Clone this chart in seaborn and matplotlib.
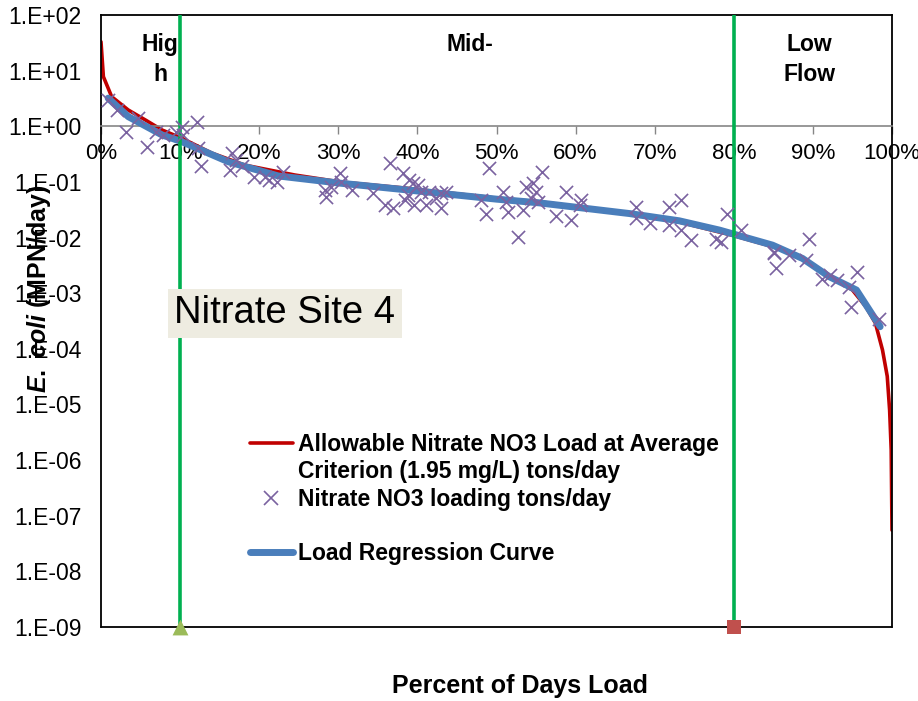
import numpy as np
import pandas as pd
import matplotlib
matplotlib.use("Agg")
import matplotlib.pyplot as plt
import seaborn as sns
from matplotlib.ticker import FixedLocator, FuncFormatter, NullLocator
from matplotlib.lines import Line2D

# ---------------- data ----------------
allow_x = [0.0, 0.003, 0.0135, 0.0345, 0.056, 0.077, 0.102, 0.14, 0.182, 0.245,
           0.302, 0.386, 0.5, 0.554, 0.668, 0.731, 0.798, 0.857, 0.887, 0.92,
           0.95, 0.967, 0.979, 0.988, 0.994, 0.997, 0.999, 1.0]
allow_y = [33, 7.8, 3.4, 1.96, 1.30, 0.86, 0.61, 0.33, 0.20, 0.133,
           0.10, 0.077, 0.051, 0.044, 0.027, 0.019, 0.011, 0.0064, 0.0042, 0.0021,
           0.00114, 0.00057, 0.00029, 0.000095, 0.000032, 0.0000079, 0.0000015, 0.000000055]

reg_x = [0.009, 0.0345, 0.077, 0.102, 0.161, 0.224, 0.302, 0.386, 0.5, 0.554,
         0.668, 0.731, 0.782, 0.849, 0.887, 0.921, 0.955, 0.985]
reg_y = [3.2, 1.49, 0.70, 0.53, 0.23, 0.128, 0.095, 0.072, 0.049, 0.042,
         0.027, 0.020, 0.0136, 0.0073, 0.0042, 0.00197, 0.00114, 0.00025]

obs_x = [0.009, 0.020, 0.032, 0.047, 0.058, 0.070, 0.079, 0.095, 0.102, 0.104,
         0.121, 0.123, 0.127, 0.163, 0.165, 0.171, 0.178, 0.194, 0.207, 0.213,
         0.222, 0.230, 0.283, 0.285, 0.291, 0.302, 0.304, 0.317, 0.344, 0.359,
         0.365, 0.369, 0.382, 0.384, 0.388, 0.390, 0.394, 0.396, 0.401, 0.405,
         0.411, 0.415, 0.424, 0.430, 0.430, 0.436, 0.481, 0.487, 0.491, 0.508,
         0.512, 0.514, 0.527, 0.533, 0.537, 0.544, 0.550, 0.546, 0.552, 0.558,
         0.575, 0.588, 0.594, 0.605, 0.607, 0.676, 0.676, 0.694, 0.718, 0.718,
         0.733, 0.733, 0.746, 0.777, 0.784, 0.792, 0.809, 0.851, 0.851, 0.853,
         0.870, 0.891, 0.895, 0.912, 0.922, 0.931, 0.946, 0.948, 0.956, 0.984]
obs_y = [2.97, 1.96, 0.80, 1.39, 0.43, 0.80, 0.70, 0.80, 0.98, 0.70,
         1.21, 0.40, 0.19, 0.164, 0.33, 0.25, 0.19, 0.124, 0.124, 0.108,
         0.10, 0.15, 0.072, 0.054, 0.082, 0.143, 0.10, 0.072, 0.062, 0.038,
         0.216, 0.034, 0.143, 0.047, 0.058, 0.108, 0.094, 0.038, 0.088, 0.067,
         0.038, 0.067, 0.051, 0.062, 0.034, 0.067, 0.047, 0.027, 0.176, 0.067,
         0.044, 0.029, 0.0104, 0.031, 0.082, 0.051, 0.067, 0.094, 0.044, 0.153,
         0.024, 0.067, 0.021, 0.038, 0.047, 0.036, 0.022, 0.018, 0.036, 0.0168,
         0.047, 0.0136, 0.009, 0.0096, 0.0084, 0.027, 0.0136, 0.0052, 0.0056, 0.0028,
         0.0048, 0.0039, 0.0096, 0.0018, 0.0021, 0.0017, 0.0013, 0.00057, 0.0024, 0.00035]

flow_breaks = [0.1, 0.8]
zone_labels = ["Hig\nh", "Mid-", "Low\nFlow"]
zone_label_x = [0.0746, 0.466, 0.896]
x_ticks = [0.0, 0.1, 0.2, 0.3, 0.4, 0.5, 0.6, 0.7, 0.8, 0.9, 1.0]
y_exponents = list(range(-9, 3))

label_allow_1 = "Allowable Nitrate NO3 Load at Average"
label_allow_2 = "Criterion (1.95 mg/L) tons/day"
label_obs = "Nitrate NO3 loading tons/day"
label_reg = "Load Regression Curve"

# ---------------- style ----------------
sns.set_style("white")
plt.rcParams["font.family"] = ["Liberation Sans", "DejaVu Sans"]
plt.rcParams["mathtext.fontset"] = "custom"
plt.rcParams["mathtext.it"] = "Liberation Sans:italic:bold"
plt.rcParams["mathtext.rm"] = "Liberation Sans:bold"
for k in ["text.color", "axes.labelcolor", "xtick.color", "ytick.color"]:
    plt.rcParams[k] = "black"

W, H = 918, 701
fig = plt.figure(figsize=(W / 100, H / 100), dpi=100)
L, R, T, B = 101, 892, 15, 627
ax = fig.add_axes([L / W, 1 - B / H, (R - L) / W, (B - T) / H])

RED = "#C00000"
BLUE = "#4A7EBB"
PURPLE = "#7A62A0"
GREEN = "#00B050"

df_allow = pd.DataFrame({"x": allow_x, "y": allow_y})
df_reg = pd.DataFrame({"x": reg_x, "y": reg_y})
df_obs = pd.DataFrame({"x": obs_x, "y": obs_y})

sns.lineplot(data=df_allow, x="x", y="y", ax=ax, color=RED, lw=2.6,
             sort=False, estimator=None, zorder=2)
sns.lineplot(data=df_reg, x="x", y="y", ax=ax, color=BLUE, lw=5,
             sort=False, estimator=None, zorder=3)
for xb in flow_breaks:
    ax.axvline(xb, color=GREEN, lw=2.6, zorder=4)
sns.scatterplot(data=df_obs, x="x", y="y", ax=ax, marker="x", color=PURPLE,
                s=90, linewidth=1.2, zorder=5)
sns.scatterplot(x=[flow_breaks[0]], y=[1e-9], ax=ax, marker="^", color="#9BBB59",
                s=130, linewidth=0, clip_on=False, zorder=6)
sns.scatterplot(x=[flow_breaks[1]], y=[1e-9], ax=ax, marker="s", color="#C0504D",
                s=100, linewidth=0, clip_on=False, zorder=6)

ax.set_yscale("log")
ax.set_xlim(0, 1)
ax.set_ylim(1e-9, 1e2)

ax.yaxis.set_major_locator(FixedLocator([10.0 ** k for k in y_exponents]))
ax.yaxis.set_minor_locator(NullLocator())
ax.yaxis.set_major_formatter(FuncFormatter(lambda v, p: "1.E%+03d" % int(round(np.log10(v)))))
ax.set_xticks(x_ticks)
ax.set_xticklabels(["%d%%" % int(round(v * 100)) for v in x_ticks])

ax.spines["bottom"].set_position(("data", 1))
ax.spines["bottom"].set_color("#868686")
ax.spines["bottom"].set_linewidth(1.2)
for s in ["left", "right", "top"]:
    ax.spines[s].set_color("black")
    ax.spines[s].set_linewidth(1.3)
ax.plot([0, 1], [0, 0], transform=ax.transAxes, color="black", lw=1.3, clip_on=False, zorder=1)

ax.tick_params(axis="x", direction="out", length=6, width=1, color="#868686",
               labelcolor="black", labelsize=16, pad=6, bottom=True)
ax.tick_params(axis="y", length=0, labelsize=16.5, pad=14, labelcolor="black")

ax.set_xlabel("")
ax.set_ylabel("")
fig.text(520 / W, 1 - 686 / H, "Percent of Days Load", fontsize=18, fontweight="bold",
         ha="center", va="center", color="black")
fig.text(39 / W, 1 - 289 / H, r"$\it{E.\ coli}$ (MPN/day)", fontsize=18, fontweight="bold",
         rotation=90, ha="center", va="center", color="black")

for lx, txt in zip(zone_label_x, zone_labels):
    ax.text(lx, 0.97, txt, transform=ax.get_xaxis_transform(), fontsize=16.5,
            fontweight="bold", ha="center", va="top", linespacing=1.35, color="black")

ax.text(0.2326, 0.513, "Nitrate Site 4", transform=ax.transAxes, fontsize=27.5,
        ha="center", va="center", zorder=7, color="black",
        bbox=dict(boxstyle="square,pad=0.17", facecolor="#EEECE1", edgecolor="none"))

blank = Line2D([], [], color="none")
h_red = Line2D([], [], color=RED, lw=2.6)
h_obs = Line2D([], [], color=PURPLE, marker="x", linestyle="none", markersize=10, markeredgewidth=1.2)
h_blue = Line2D([], [], color=BLUE, lw=5, solid_capstyle="round")
leg = ax.legend([h_red, blank, h_obs, blank, h_blue],
                [label_allow_1, label_allow_2, label_obs, " ", label_reg],
                loc="upper left", bbox_to_anchor=(0.188, 0.317), borderaxespad=0,
                borderpad=0, frameon=False, handlelength=1.9, handletextpad=0.2,
                labelspacing=0.19, prop=dict(weight="bold", size=16.5))
for t in leg.get_texts():
    t.set_color("black")

fig.savefig("out.png", dpi=100)
